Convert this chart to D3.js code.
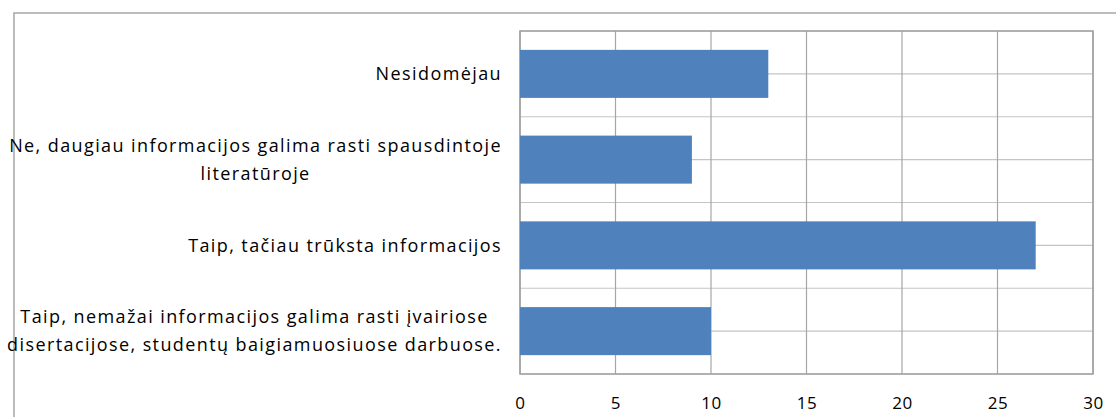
<!DOCTYPE html>
<html lang="lt">
<head>
    <meta charset="UTF-8">
    <title>Diagrama</title>
    <script src="https://d3js.org/d3.v7.min.js"></script>
    <style>
        body{
            margin:0;
            background:#fff;
        }
        text{
            font-family:"Open Sans", "Noto Sans", sans-serif;
            fill:#000;
        }
    </style>
</head>
<body>
<script>
    // duomenys
    var categories = [
        "Nesidomėjau",
        "Ne, daugiau informacijos galima rasti spausdintoje\nliteratūroje",
        "Taip, tačiau trūksta informacijos ",
        "Taip, nemažai informacijos galima rasti įvairiose\ndisertacijose, studentų baigiamuosiuose darbuose."
    ];
    var values = [13, 9, 27, 10];
    var xTicks = [0, 5, 10, 15, 20, 25, 30];

    var w = 1116, h = 417;
    var plot = {left:520, right:1093, top:31, bottom:374};

    var svg = d3.select("body").append("svg")
        .attr("width", w)
        .attr("height", h);

    // outer chart frame
    svg.append("rect")
        .attr("x", 14).attr("y", 13)
        .attr("width", w).attr("height", h)
        .attr("fill", "none")
        .attr("stroke", "#a6a6a6")
        .attr("stroke-width", 1.5);

    var xScale = d3.scaleLinear()
        .domain([0, 30])
        .range([plot.left, plot.right]);

    var yScale = d3.scaleBand()
        .domain(categories)
        .range([plot.top, plot.bottom])
        .paddingInner(0.44)
        .paddingOuter(0.22);

    var step = yScale.step();

    // horizontal grid (band edges + centers)
    var hLines = [];
    categories.forEach(function(c, i){
        var y0 = plot.top + i * step;
        hLines.push(y0, y0 + step / 2);
    });
    hLines.push(plot.bottom);

    svg.append("g").selectAll("line")
        .data(hLines)
        .enter().append("line")
        .attr("x1", plot.left).attr("x2", plot.right)
        .attr("y1", d => d).attr("y2", d => d)
        .attr("stroke", "#c4c4c4")
        .attr("stroke-width", 1.2);

    // vertical grid
    svg.append("g").selectAll("line")
        .data(xTicks)
        .enter().append("line")
        .attr("x1", d => xScale(d)).attr("x2", d => xScale(d))
        .attr("y1", plot.top).attr("y2", plot.bottom)
        .attr("stroke", "#a6a6a6")
        .attr("stroke-width", 1.2);

    // plot frame
    svg.append("rect")
        .attr("x", plot.left).attr("y", plot.top)
        .attr("width", plot.right - plot.left)
        .attr("height", plot.bottom - plot.top)
        .attr("fill", "none")
        .attr("stroke", "#a0a0a0")
        .attr("stroke-width", 1.5);

    // bars
    svg.append("g").selectAll("rect")
        .data(values)
        .enter().append("rect")
        .attr("x", xScale(0))
        .attr("y", (d, i) => yScale(categories[i]))
        .attr("width", d => xScale(d) - xScale(0))
        .attr("height", yScale.bandwidth())
        .attr("fill", "#4f81bd");

    // x axis
    var xAxis = d3.axisBottom(xScale)
        .tickValues(xTicks)
        .tickSize(0)
        .tickPadding(23);

    var gx = svg.append("g")
        .attr("transform", `translate(0,${plot.bottom})`)
        .call(xAxis);
    gx.select(".domain").remove();
    gx.selectAll("text")
        .attr("font-size", 17)
        .style("font-family", "'Open Sans', sans-serif")
        .attr("fill", "#000")
        .attr("letter-spacing", 0.6);

    // category labels
    var lineH = 28;
    var labelRight = 502;
    var gl = svg.append("g");
    categories.forEach(function(c){
        var lines = c.split("\n");
        var cy = yScale(c) + yScale.bandwidth() / 2;
        var t = gl.append("text")
            .attr("font-size", 18)
            .attr("letter-spacing", 1.4)
            .attr("text-anchor", "middle");
        lines.forEach(function(l, j){
            t.append("tspan")
                .attr("y", cy + (j - (lines.length - 1) / 2) * lineH)
                .attr("dy", "0.35em")
                .attr("x", 0)
                .text(l);
        });
        // centre lines within block, right aligned block
        var bw = t.node().getBBox().width;
        t.selectAll("tspan").attr("x", labelRight - bw / 2);
    });
</script>
</body>
</html>
